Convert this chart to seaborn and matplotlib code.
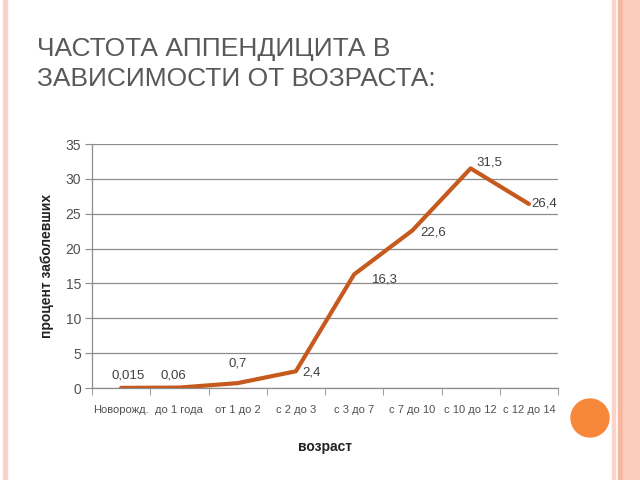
import matplotlib
matplotlib.use("Agg")
import matplotlib.pyplot as plt
import matplotlib.patches as mpatches
from matplotlib.ticker import FixedLocator, MultipleLocator
import seaborn as sns
import pandas as pd

categories = ["Новорожд.", "до 1 года", "от 1 до 2", "с 2 до 3",
              "с 3 до 7", "с 7 до 10", "с 10 до 12", "с 12 до 14"]
values = [0.015, 0.06, 0.7, 2.4, 16.3, 22.6, 31.5, 26.4]
value_labels = ["0,015", "0,06", "0,7", "2,4", "16,3", "22,6", "31,5", "26,4"]
title_text = "ЧАСТОТА АППЕНДИЦИТА В\nЗАВИСИМОСТИ ОТ ВОЗРАСТА:"
x_label = "возраст"
y_label = "процент заболевших"

sns.set_style("white")
plt.rcParams['font.family'] = ['Liberation Sans', 'DejaVu Sans']

df = pd.DataFrame({"age": categories, "pct": values})

fig = plt.figure(figsize=(6.4, 4.8), dpi=100)
fig.patch.set_facecolor("white")

# slide decoration
deco = [
    (3, 4, "#F9D3C6"),
    (612, 3, "#FAD4C8"),
    (618, 5, "#F5B7A0"),
    (623, 17, "#FBCCBC"),
]
for x0, w, c in deco:
    fig.patches.append(mpatches.Rectangle((x0 / 640, 0), w / 640, 1,
                                          transform=fig.transFigure,
                                          color=c, zorder=0))
fig.patches.append(mpatches.Ellipse((590 / 640, 1 - 418 / 480), 38 / 640, 38 / 480,
                                    transform=fig.transFigure,
                                    color="#F7883A", zorder=1))

fig.text(37 / 640, 1 - 37 / 480, title_text, fontsize=19,
         family=['Liberation Sans Narrow', 'Liberation Sans', 'DejaVu Sans'],
         color="#595959", ha="left", va="top", linespacing=1.3)

ax = fig.add_axes([92 / 640, 1 - 388 / 480, 466 / 640, 244 / 480])
ax.set_facecolor("white")

sns.lineplot(data=df, x="age", y="pct", ax=ax, color="#C65A1E",
             linewidth=3, sort=False, zorder=3)

ax.set_ylim(0, 35)
ax.set_xlim(-0.5, len(categories) - 0.5)
ax.yaxis.set_major_locator(MultipleLocator(5))
ax.grid(axis="y", color="#8C8C8C", linewidth=0.9)
ax.grid(axis="x", visible=False)
ax.set_axisbelow(True)

for s in ["top", "right"]:
    ax.spines[s].set_visible(False)
for s in ["left", "bottom"]:
    ax.spines[s].set_color("#8C8C8C")
    ax.spines[s].set_linewidth(0.9)

ax.tick_params(axis="y", which="major", left=True, length=5, color="#8C8C8C",
               labelsize=10, labelcolor="#505050", pad=3)
ax.set_xticks(range(len(categories)))
ax.set_xticklabels(categories)
ax.xaxis.set_minor_locator(FixedLocator([i - 0.5 for i in range(len(categories) + 1)]))
ax.tick_params(axis="x", which="major", bottom=False, labelsize=8,
               labelcolor="#505050", pad=9)
ax.tick_params(axis="x", which="minor", bottom=True, length=5, color="#8C8C8C")

ax.set_xlabel(x_label, fontsize=10, fontweight="bold", color="#222222", labelpad=18)
ax.set_ylabel(y_label, fontsize=10, fontweight="bold", color="#222222", labelpad=8)

offsets = [(7, 12, "center"), (-6, 12, "center"), (0, 20, "center"),
           (6, -1, "left"), (18, -5, "left"), (8, -2, "left"),
           (6, 6, "left"), (2, 0, "left")]
for i, (v, lab) in enumerate(zip(values, value_labels)):
    dx, dy, ha = offsets[i]
    ax.annotate(lab, (i, v), xytext=(dx, dy), textcoords="offset pixels",
                ha=ha, va="center", fontsize=9.5, color="#404040", zorder=4,
                annotation_clip=False)

fig.savefig("out.png", dpi=100)
